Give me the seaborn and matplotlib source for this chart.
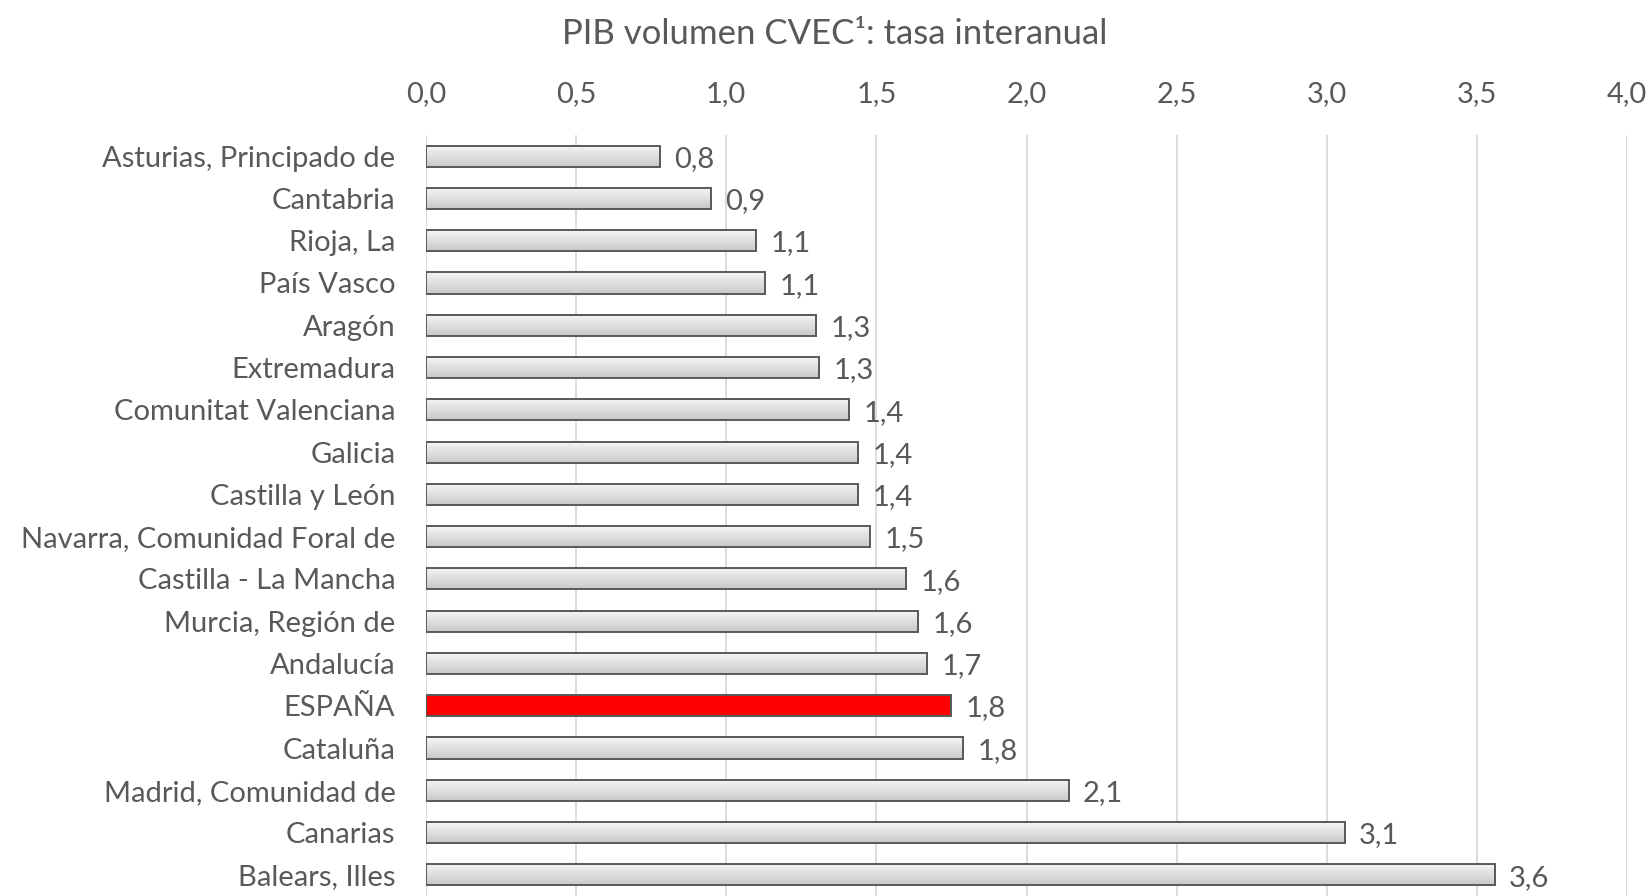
import numpy as np
import pandas as pd
import seaborn as sns
import matplotlib.pyplot as plt
from matplotlib.colors import LinearSegmentedColormap

regions = ['Asturias, Principado de', 'Cantabria', 'Rioja, La', 'País Vasco', 'Aragón',
           'Extremadura', 'Comunitat Valenciana', 'Galicia', 'Castilla y León',
           'Navarra, Comunidad Foral de', 'Castilla - La Mancha', 'Murcia, Región de',
           'Andalucía', 'ESPAÑA', 'Cataluña', 'Madrid, Comunidad de', 'Canarias', 'Balears, Illes']
values = [0.78, 0.95, 1.10, 1.13, 1.30, 1.31, 1.41, 1.44, 1.44, 1.48,
          1.60, 1.64, 1.67, 1.75, 1.79, 2.14, 3.06, 3.56]
highlight = 'ESPAÑA'
xticks = [0.0, 0.5, 1.0, 1.5, 2.0, 2.5, 3.0, 3.5, 4.0]

df = pd.DataFrame({'region': regions, 'valor': values})

sns.set_style('white')
plt.rcParams['font.family'] = ['Lato', 'DejaVu Sans']
gris = '#595959'

fig = plt.figure(figsize=(16.49, 8.96), dpi=100)
ax = fig.add_axes([0.2583, 0.0, 0.7284, 0.8493])

pal = {r: ('#ff0000' if r == highlight else '#e0e0e0') for r in regions}
sns.barplot(data=df, x='valor', y='region', hue='region', palette=pal, legend=False,
            orient='h', width=0.5, saturation=1, edgecolor=gris, linewidth=1.4, ax=ax)

# gradient fill for the grey bars
grad = np.linspace(0, 1, 64).reshape(-1, 1)
cmap = LinearSegmentedColormap.from_list('g', ['#f6f6f6', '#c9c9c9'])
for p in list(ax.patches):
    fc = p.get_facecolor()
    if fc[0] > 0.99 and fc[1] < 0.1:
        continue
    x0, y0 = p.get_x(), p.get_y()
    w, h = p.get_width(), p.get_height()
    im = ax.imshow(grad, cmap=cmap, extent=[x0, x0 + w, y0 + h, y0], aspect='auto',
                   zorder=p.get_zorder())
    im.set_clip_path(p)
    p.set_facecolor('none')
    p.set_zorder(p.get_zorder() + 0.5)

ax.set_xlim(0, 4.0)
ax.set_ylim(len(regions) - 0.5, -0.5)
ax.set_xticks(xticks)
ax.set_xticklabels([f'{t:.1f}'.replace('.', ',') for t in xticks])
ax.xaxis.tick_top()
ax.tick_params(axis='x', length=0, pad=20, labelsize=21, labelcolor=gris)
ax.tick_params(axis='y', length=0, pad=22, labelsize=21, labelcolor=gris)
ax.set_xlabel('')
ax.set_ylabel('')
ax.grid(axis='x', color='#d9d9d9', linewidth=1.3)
ax.set_axisbelow(True)
for s in ax.spines.values():
    s.set_visible(False)

for c in ax.containers:
    txts = ax.bar_label(c, labels=[f'{v:.1f}'.replace('.', ',') for v in c.datavalues],
                        padding=10, fontsize=21, color=gris)
    for t in txts:
        x, y = t.xyann
        t.xyann = (x, y - 2)

fig.text(0.5064, 0.962, 'PIB volumen CVEC¹: tasa interanual', ha='center', va='center',
         fontsize=25, color=gris)

plt.savefig('out.png', dpi=100)
